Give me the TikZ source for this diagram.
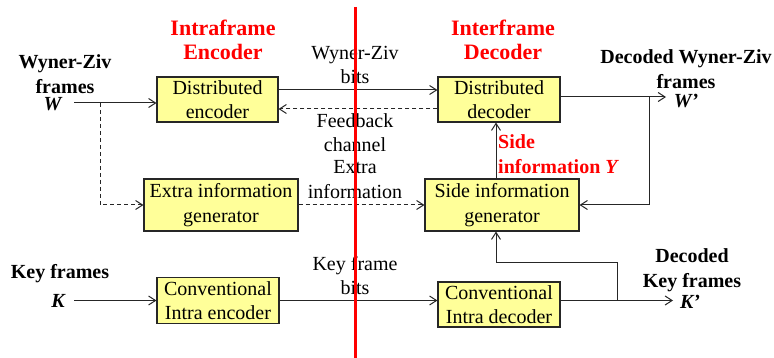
\documentclass[tikz,border=0pt]{standalone}
\usepackage{fontspec}
\setmainfont{Liberation Serif}
\usetikzlibrary{arrows.meta}
\definecolor{boxfill}{RGB}{255,255,153}
\tikzset{
  blk/.style={draw=black!85, line width=1.1pt, fill=boxfill, inner sep=0pt,
    align=center, font=\fontsize{20}{24.5}\selectfont},
  lbl/.style={inner sep=0pt, align=center, font=\fontsize{20}{24.5}\selectfont},
  blbl/.style={lbl, font=\fontsize{20}{24.5}\selectfont\bfseries},
  ttl/.style={inner sep=0pt, align=center, text=red,
    font=\fontsize{22}{24.5}\selectfont\bfseries},
  arr/.style={line width=1pt, draw=black!85, -{Straight Barb[length=7pt,width=9pt]}},
  dsh/.style={dash pattern=on 4pt off 3pt},
}
\begin{document}
\begin{tikzpicture}[x=1pt,y=-1pt]
\useasboundingbox (0,0) rectangle (774,358);

% processing blocks
\node[blk, minimum width=121pt, minimum height=45pt] (enc)  at (217.5,99.5) {Distributed\\encoder};
\node[blk, minimum width=122pt, minimum height=45pt] (dec)  at (499,99.5)   {Distributed\\decoder};
\node[blk, minimum width=154pt, minimum height=52pt] (xgen) at (221,205)    {Extra information\\generator};
\node[blk, minimum width=154pt, minimum height=52pt] (sgen) at (502,205)    {Side information\\generator};
\node[blk, minimum width=122pt, minimum height=46pt] (kenc) at (218,300.5)  {Conventional\\Intra encoder};
\node[blk, minimum width=122pt, minimum height=45pt] (kdec) at (499,304.5)  {Conventional\\Intra decoder};

% section titles
\node[ttl] (tenc) at (223,40) {Intraframe\\Encoder};
\node[ttl] (tdec) at (503,40) {Interframe\\Decoder};

% input / output labels
\node[blbl, anchor=north] (lw) at (65,54.5)
  {Wyner-Ziv\\frames\\[-7.5pt]\textit{W}\hspace*{24pt}};
\node[blbl] (lk)  at (60,274) {Key frames};
\node[blbl] (lkv) at (58,301) {\itshape K};
\node[blbl] (lwo) at (686,69) {Decoded Wyner-Ziv\\frames};
\node[blbl] (lwov) at (686,101) {\itshape W’};
\node[blbl] (lko) at (692,270) {Decoded\\Key frames};
\node[blbl] (lkov) at (690,302) {\itshape K’};

% channel labels
\node[lbl] (lbits)  at (355,65)    {Wyner-Ziv\\bits};
\node[lbl] (lfb)    at (355,132.5) {Feedback\\channel};
\node[lbl] (lextra) at (355,179.5) {Extra\\information};
\node[lbl] (lkbits) at (355,275.5) {Key frame\\bits};
\node[blbl, text=red, align=left, anchor=west] (lside) at (498,154) {Side\\information \textit{Y}};

% free ends and bends
\coordinate (win)   at (74,103);
\coordinate (wbr)   at (100,103);
\coordinate (kin)   at (74,300.5);
\coordinate (wout)  at (666,97);
\coordinate (loop)  at (649,97);
\coordinate (kout)  at (673,300.5);
\coordinate (kbr)   at (617,300.5);
\coordinate (kturn) at (617,263);

% connectors
\draw[arr] (win) -- ([yshift=-3.5pt]enc.west);
\draw[arr,dsh] (wbr) |- (xgen.west);
\draw[arr] ([yshift=9.5pt]enc.east) -- ([yshift=9.5pt]dec.west);
\draw[arr,dsh] ([yshift=-9.5pt]dec.west) -- ([yshift=-9.5pt]enc.east);
\draw[arr] ([yshift=2.5pt]dec.east) -- (wout);
\draw[arr] (loop) |- (sgen.east);
\draw[arr,dsh] (xgen.east) -- (sgen.west);
\draw[arr] ([xshift=-6pt]sgen.north) -- ([xshift=-6pt]sgen.north |- dec.south);
\draw[arr] (kin) -- (kenc.west);
\draw[arr] (kenc.east) -- (kenc.east -| kdec.west);
\draw[arr] ([yshift=4pt]kdec.east) -- (kout);
\draw[arr] (kbr) -- (kturn) -| ([xshift=-6pt]sgen.south);

% encoder / decoder boundary
\coordinate (rtop) at (355,7);
\coordinate (rbot) at (355,358);
\draw[red, line width=3pt] (rtop) -- (rbot);
\end{tikzpicture}
\end{document}
